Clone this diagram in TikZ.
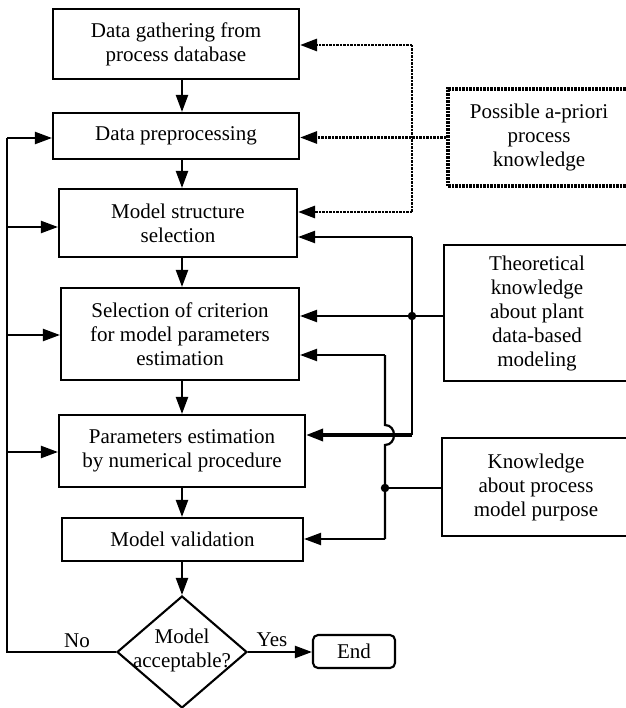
\documentclass[tikz,border=0pt]{standalone}
\usepackage{fontspec}
\setmainfont{Liberation Serif}
\usetikzlibrary{arrows.meta,shapes.geometric}
\begin{document}
\begin{tikzpicture}[x=1pt,y=-1pt,
  box/.style={draw, line width=2.1pt, inner sep=0pt, align=center, font=\fontsize{21}{24}\selectfont},
  arr/.style={line width=2.2pt, -{Triangle[length=17pt,width=12pt]}},
  ln/.style={line width=2.2pt},
  dotln/.style={line width=2.8pt, dash pattern=on 2.5pt off 1pt},
  dotarr/.style={dotln, -{Triangle[length=17pt,width=12pt]}},
  jdot/.style={circle, fill, inner sep=0pt, minimum size=8.5pt},
  lbl/.style={font=\fontsize{21}{24}\selectfont, inner sep=0pt, align=center}]
\useasboundingbox (0,0) rectangle (625,708);

% main chain
\node[box, minimum width=246pt, minimum height=70pt] (b1) at (176,44) {Data gathering from\\process database};
\node[box, minimum width=246pt, minimum height=46pt] (b2) at (176,136) {Data preprocessing};
\node[box, minimum width=238pt, minimum height=68pt] (b3) at (178,223) {Model structure\\selection};
\node[box, minimum width=238pt, minimum height=92pt] (b4) at (180,334) {Selection of criterion\\for model parameters\\estimation};
\node[box, minimum width=246pt, minimum height=72pt] (b5) at (182,451) {Parameters estimation\\by numerical procedure};
\node[box, minimum width=241pt, minimum height=43pt] (b6) at (182.5,539.5) {Model validation};
\node[draw, diamond, line width=2.1pt, minimum width=130pt, minimum height=112pt, inner sep=0pt] (dec) at (182,652) {};
\node[lbl] (dect) at (182,650) {Model\\acceptable?};
\node[box, rounded corners=5pt, minimum width=82pt, minimum height=33pt] (end) at (354,651.5) {End};

% side boxes
\node[box, dotln, line width=3.2pt, minimum width=182pt, minimum height=97pt] (P) at (539,137.5) {Possible a-priori\\process\\knowledge};
\node[box, minimum width=186pt, minimum height=136pt] (T) at (537,313) {Theoretical\\knowledge\\about plant\\data-based\\modeling};
\node[box, minimum width=188pt, minimum height=98pt] (K) at (536,487) {Knowledge\\about process\\model purpose};

% vertical arrows
\coordinate (ax) at (182,0);
\draw[arr] (b1.south -| ax) -- (b2.north -| ax);
\draw[arr] (b2.south -| ax) -- (b3.north -| ax);
\draw[arr] (b3.south -| ax) -- (b4.north -| ax);
\draw[arr] (b4.south -| ax) -- (b5.north -| ax);
\draw[arr] (b5.south -| ax) -- (b6.north -| ax);
\draw[arr] (b6.south -| ax) -- (dec.north);
\draw[arr] (dec.east) -- (dec.east -| end.west);
\node[lbl] (yes) at (272,640) {Yes};

% feedback on the left
\coordinate (L1) at (7,138);
\coordinate (L2) at (7,227);
\coordinate (L3) at (7,335);
\coordinate (L4) at (7,452);
\coordinate (L5) at (7,652);
\draw[ln] (dec.west) -- (L5) -- (L1);
\draw[arr] (L1) -- (L1 -| b2.west);
\draw[arr] (L2) -- (L2 -| b3.west);
\draw[arr] (L3) -- (L3 -| b4.west);
\draw[arr] (L4) -- (L4 -| b5.west);
\node[lbl] (no) at (77,641) {No};

% dotted a-priori knowledge
\coordinate (D1) at (412,45);
\coordinate (D3) at (412,212);
\draw[dotln] (D1) -- (D3);
\draw[dotarr] (D1) -- (D1 -| b1.east);
\draw[dotarr] (P.west) -- (P.west -| b2.east);
\draw[dotarr] (D3) -- (D3 -| b3.east);

% theoretical knowledge
\coordinate (T1) at (412,237);
\coordinate (T2) at (412,316);
\coordinate (T3) at (412,435);
\draw[ln] (T1) -- (T3);
\draw[arr] (T1) -- (T1 -| b3.east);
\draw[arr] (T2 -| T.west) -- (T2 -| b4.east);
\draw[arr, line width=3.4pt] (T3) -- (T3 -| b5.east);
\node[jdot] (j1) at (T2) {};

% process model purpose
\coordinate (K1) at (385,355);
\coordinate (H1) at (385,425);
\coordinate (H2) at (385,445);
\coordinate (K2) at (385,488);
\coordinate (K3) at (385,539);
\draw[ln] (K1) -- (H1) .. controls (397,425) and (397,445) .. (H2) -- (K3);
\draw[arr] (K1) -- (K1 -| b4.east);
\draw[arr] (K3) -- (K3 -| b6.east);
\draw[ln] (K2 -| K.west) -- (K2);
\node[jdot] (j2) at (K2) {};
\end{tikzpicture}
\end{document}
